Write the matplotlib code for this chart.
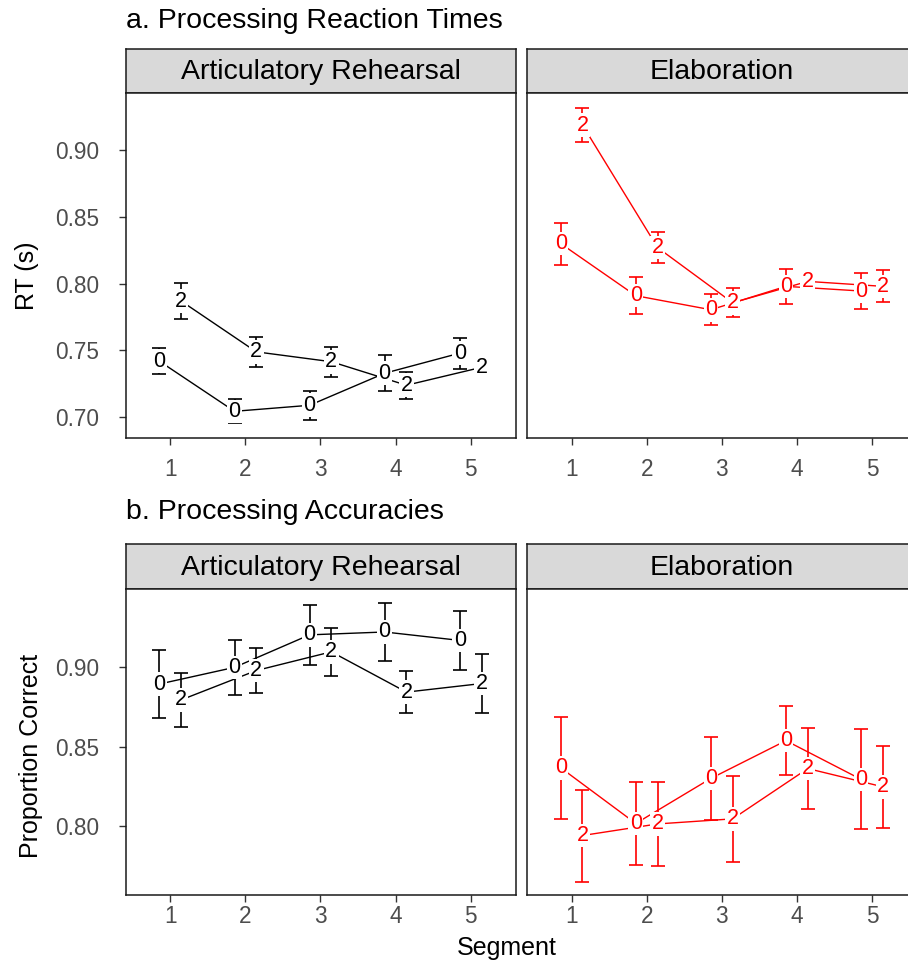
import matplotlib
matplotlib.use("Agg")
import matplotlib.pyplot as plt
import numpy as np

plt.rcParams["font.family"] = ["Liberation Sans", "DejaVu Sans"]

segments = [1, 2, 3, 4, 5]
conditions = ["Articulatory Rehearsal", "Elaboration"]
cond_colors = ["black", "#FF0000"]
groups = ["0", "2"]

# reaction times (s): mean and standard error per segment
rt_ar_0 = [0.742, 0.7045, 0.709, 0.733, 0.748]
rt_ar_0_se = [0.0095, 0.009, 0.011, 0.0133, 0.0116]
rt_ar_2 = [0.787, 0.749, 0.7416, 0.724, 0.7374]
rt_ar_2_se = [0.0135, 0.011, 0.0112, 0.010, 0.005]
rt_el_0 = [0.830, 0.791, 0.7805, 0.798, 0.7945]
rt_el_0_se = [0.0157, 0.0137, 0.0115, 0.013, 0.0137]
rt_el_2 = [0.9187, 0.827, 0.7857, 0.8017, 0.798]
rt_el_2_se = [0.0125, 0.0116, 0.0108, 0.0078, 0.012]

# accuracies (proportion correct)
acc_ar_0 = [0.8895, 0.900, 0.9205, 0.9223, 0.917]
acc_ar_0_se = [0.0216, 0.0173, 0.019, 0.018, 0.0186]
acc_ar_2 = [0.8795, 0.898, 0.9098, 0.8844, 0.8898]
acc_ar_2_se = [0.0172, 0.0139, 0.015, 0.0133, 0.0187]
acc_el_0 = [0.8367, 0.8016, 0.830, 0.8538, 0.8294]
acc_el_0_se = [0.0321, 0.0262, 0.026, 0.0218, 0.0315]
acc_el_2 = [0.794, 0.8013, 0.8045, 0.8362, 0.8247]
acc_el_2_se = [0.029, 0.0265, 0.027, 0.0257, 0.0257]

rt_data = [
    [(rt_ar_0, rt_ar_0_se), (rt_ar_2, rt_ar_2_se)],
    [(rt_el_0, rt_el_0_se), (rt_el_2, rt_el_2_se)],
]
acc_data = [
    [(acc_ar_0, acc_ar_0_se), (acc_ar_2, acc_ar_2_se)],
    [(acc_el_0, acc_el_0_se), (acc_el_2, acc_el_2_se)],
]

W, H = 908, 965
fig = plt.figure(figsize=(W / 100, H / 100), dpi=100)


def px_axes(x0, y0, x1, y1):
    return fig.add_axes([x0 / W, 1 - y1 / H, (x1 - x0) / W, (y1 - y0) / H])


def strip(x0, y0, x1, y1, label):
    s = px_axes(x0, y0, x1, y1)
    s.set_facecolor("#D9D9D9")
    s.set_xticks([])
    s.set_yticks([])
    for sp in s.spines.values():
        sp.set_linewidth(1.1)
        sp.set_color("#1a1a1a")
    s.text(0.5, 0.47, label, ha="center", va="center", fontsize=20.5,
           transform=s.transAxes)


def panel(ax, data, color, ylim, yticks, show_y, xpad):
    offsets = [-0.145, 0.145]
    for (mean, se), lab, off in zip(data, groups, offsets):
        x = np.array(segments) + off
        ax.plot(x, mean, color=color, lw=1.0, zorder=2)
        ax.errorbar(x, mean, yerr=se, fmt="none", ecolor=color, elinewidth=1.2,
                    capsize=4.8, capthick=1.2, zorder=2)
        for xi, yi in zip(x, mean):
            ax.text(xi, yi, lab, color=color, ha="center", va="center",
                    fontsize=15.5, zorder=3,
                    bbox=dict(boxstyle="square,pad=0.06", fc="white", ec="none"))
    ax.set_xlim(0.41, 5.6)
    ax.set_ylim(*ylim)
    ax.set_xticks(segments)
    ax.set_yticks(yticks)
    ax.tick_params(direction="out", length=5, width=1.0, colors="#333333",
                   labelcolor="#4D4D4D", labelsize=16.3)
    ax.tick_params(axis="x", pad=xpad)
    ax.tick_params(axis="y", pad=14)
    if show_y:
        ax.set_yticklabels([f"{v:.2f}" for v in yticks])
    else:
        ax.tick_params(axis="y", left=False, labelleft=False)
    for sp in ax.spines.values():
        sp.set_linewidth(1.1)
        sp.set_color("#1a1a1a")


lefts = [(126, 515.7), (527.3, 917)]

# a. reaction times
for i, ((x0, x1), cond, color) in enumerate(zip(lefts, conditions, cond_colors)):
    strip(x0, 49.3, x1, 92.7, cond)
    ax = px_axes(x0, 92.7, x1, 438.3)
    panel(ax, rt_data[i], color, (0.6843, 0.9429),
          [0.70, 0.75, 0.80, 0.85, 0.90], i == 0, 9)

# b. accuracies
for i, ((x0, x1), cond, color) in enumerate(zip(lefts, conditions, cond_colors)):
    strip(x0, 544.3, x1, 589, cond)
    ax = px_axes(x0, 589, x1, 895)
    panel(ax, acc_data[i], color, (0.7565, 0.9494),
          [0.80, 0.85, 0.90], i == 0, 2.5)

fig.text(126 / W, 1 - 21 / H, "a. Processing Reaction Times", fontsize=20.5,
         ha="left", va="center")
fig.text(126 / W, 1 - 512 / H, "b. Processing Accuracies", fontsize=20.5,
         ha="left", va="center")
fig.text(27 / W, 1 - 276 / H, "RT (s)", fontsize=18, rotation=90,
         ha="center", va="center")
fig.text(31 / W, 1 - 756 / H, "Proportion Correct", fontsize=18, rotation=90,
         ha="center", va="center")
fig.text(507 / W, 1 - 948 / H, "Segment", fontsize=18, ha="center", va="center")

fig.savefig("out.png", dpi=100)
